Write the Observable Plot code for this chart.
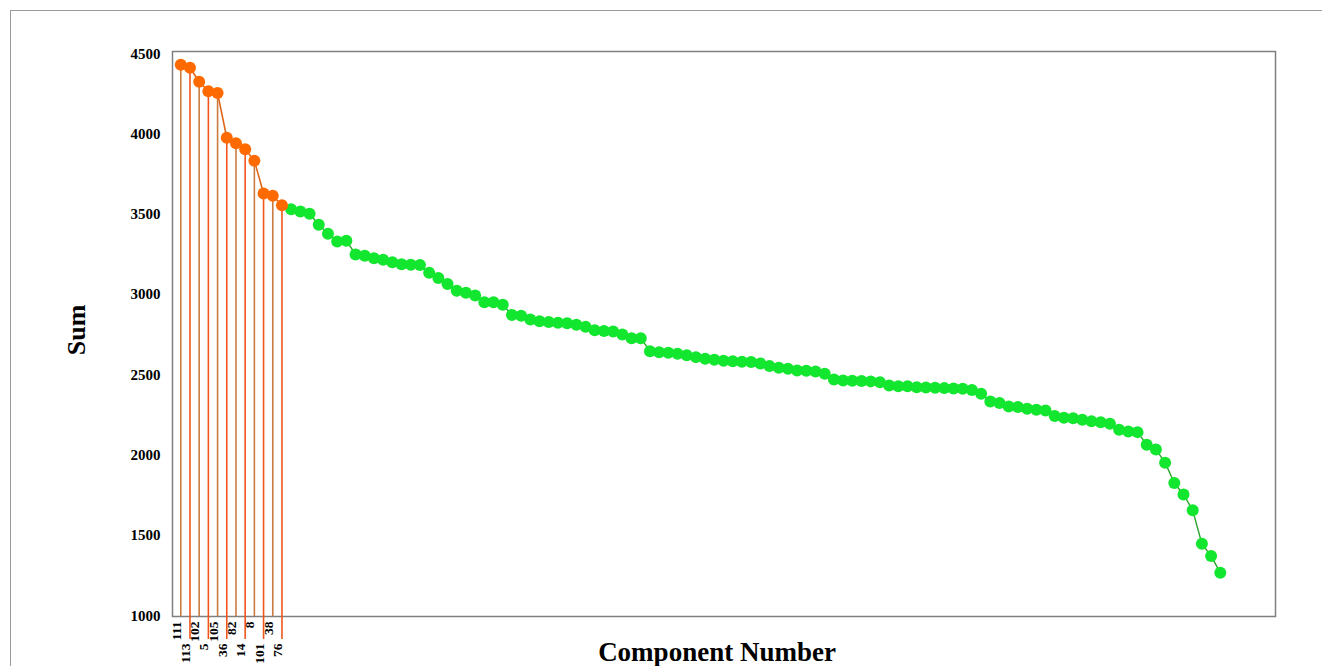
<!DOCTYPE html>
<html>
<head>
<meta charset="utf-8">
<script src="https://cdn.jsdelivr.net/npm/d3@7"></script>
<script src="https://cdn.jsdelivr.net/npm/@observablehq/plot@0.6"></script>
<style>
  html, body { margin: 0; padding: 0; background: #fff; }
  #wrap { position: relative; width: 1322px; height: 666px; overflow: hidden; }
  #border { position: absolute; left: 10px; top: 10px; width: 1400px; height: 800px;
            border-top: 1px solid #9a9a9a; border-left: 1px solid #9a9a9a; pointer-events: none; }
  #chart { position: absolute; left: 0; top: 0; }
</style>
</head>
<body>
<div id="wrap"><div id="chart"></div><div id="border"></div></div>
<script>
// Top components (highlighted, labelled)
const topComponents = [111, 113, 102, 5, 105, 36, 82, 14, 8, 101, 38, 76];
const topSums = [4432, 4413, 4326, 4267, 4255, 3977, 3943, 3906, 3834, 3630, 3616, 3557];

// Remaining components (sorted sums)
const restSums = [
  3531, 3518, 3504, 3435, 3379, 3331, 3336, 3250, 3242, 3227,
  3217, 3202, 3190, 3186, 3184, 3136, 3103, 3066, 3024, 3012,
  2995, 2953, 2953, 2937, 2873, 2868, 2846, 2835, 2829, 2825,
  2822, 2813, 2800, 2779, 2773, 2771, 2752, 2729, 2729, 2648,
  2642, 2638, 2632, 2622, 2611, 2601, 2595, 2589, 2586, 2582,
  2580, 2572, 2555, 2545, 2539, 2528, 2526, 2522, 2508, 2472,
  2466, 2464, 2462, 2460, 2455, 2435, 2430, 2429, 2424, 2422,
  2420, 2418, 2416, 2414, 2406, 2383, 2335, 2325, 2304, 2300,
  2290, 2284, 2279, 2244, 2234, 2231, 2221, 2211, 2206, 2196,
  2159, 2148, 2144, 2066, 2036, 1954, 1827, 1756, 1657, 1449,
  1372, 1269
];

const yTicks = [1000, 1500, 2000, 2500, 3000, 3500, 4000, 4500];
const xLabel = "Component Number";
const yLabel = "Sum";

const topData = topSums.map((v, i) => ({i, v, label: String(topComponents[i]), row: i % 2}));
const restData = restSums.map((v, k) => ({i: k + topSums.length, v}));
const row0 = topData.filter(d => d.row === 0);
const row1 = topData.filter(d => d.row === 1);
const yMin = 996;

const orangeDot = "#ff6a00";
const orangeLine = "#e0661a";
const stemTan = "#c97b40";
const stemRed = "#f0561c";
const greenDot = "#12e62e";
const greenLine = "#2aa52a";

const chart = Plot.plot({
  width: 1322,
  height: 666,
  marginLeft: 172,
  marginRight: 47,
  marginTop: 51,
  marginBottom: 50,
  style: {fontFamily: "'Liberation Serif', 'Times New Roman', serif", fontWeight: "bold", background: "transparent", color: "#000"},
  x: {domain: [-0.9, 119], axis: null},
  y: {domain: [yMin, 4514], axis: null},
  marks: [
    Plot.frame({stroke: "#7f7f7f", strokeWidth: 1.5}),
    Plot.axisY({ticks: yTicks, tickFormat: d => String(d), tickSize: 0, tickPadding: 12, fontSize: 15, label: null}),
    Plot.ruleX(row0, {x: "i", y1: "v", y2: yMin, stroke: stemTan, strokeWidth: 1.6}),
    Plot.ruleX(row1, {x: "i", y1: "v", y2: yMin, stroke: stemRed, strokeWidth: 1.6, insetBottom: -23}),
    Plot.line(restData, {x: "i", y: "v", stroke: greenLine, strokeWidth: 1.4}),
    Plot.line(topData, {x: "i", y: "v", stroke: orangeLine, strokeWidth: 1.6}),
    Plot.dot(restData, {x: "i", y: "v", r: 6, fill: greenDot, stroke: null}),
    Plot.dot(topData, {x: "i", y: "v", r: 6, fill: orangeDot, stroke: null}),
    Plot.text(row0, {x: "i", text: "label", frameAnchor: "bottom", dy: 5, rotate: -90, textAnchor: "end", fontSize: 13.5}),
    Plot.text(row1, {x: "i", text: "label", frameAnchor: "bottom", dy: 27, rotate: -90, textAnchor: "end", fontSize: 13.5}),
    Plot.text([yLabel], {frameAnchor: "left", dx: -96, dy: -4, rotate: -90, textAnchor: "middle", fontSize: 26}),
    Plot.text([xLabel], {frameAnchor: "bottom", dx: -7, dy: 44, fontSize: 27})
  ]
});
document.getElementById("chart").appendChild(chart);
</script>
</body>
</html>
